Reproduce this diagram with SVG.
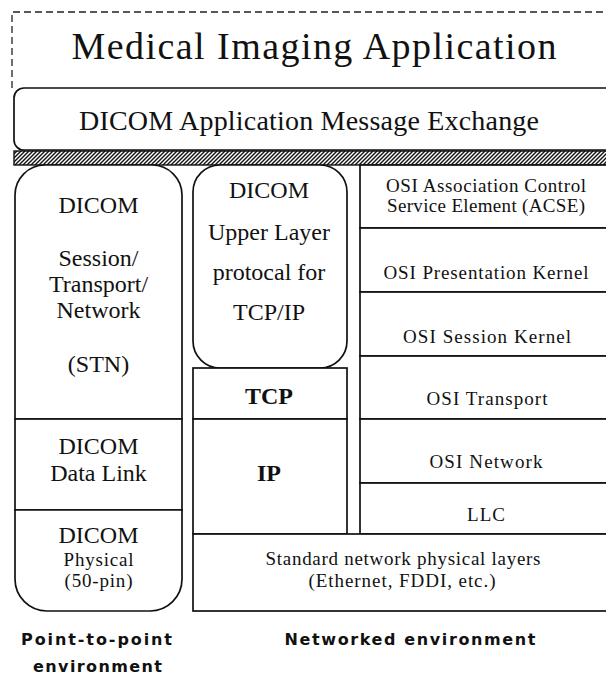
<svg xmlns="http://www.w3.org/2000/svg" width="606" height="677" viewBox="0 0 606 677">
  <defs>
    <pattern id="hatch" patternUnits="userSpaceOnUse" width="4" height="4">
      <rect width="4" height="4" fill="#fff"/>
      <path d="M-1,1 L1,-1 M0,4 L4,0 M3,5 L5,3" stroke="#111" stroke-width="1.4"/>
    </pattern>
    <style>
      .box { fill: #fff; stroke: #111; stroke-width: 1.7; }
      .dash { stroke: #222; stroke-width: 1.3; fill: none; stroke-dasharray: 7 4; }
      .t { font-family: "Liberation Serif", "Times New Roman", serif; fill: #111; text-anchor: middle; }
      .big { font-size: 24px; }
      .mid { font-size: 19px; }
      .osi { font-size: 19px; }
      .b { font-weight: bold; }
      .lbl { font-family: "DejaVu Sans", "Liberation Sans", sans-serif; font-weight: bold; font-size: 16px; fill: #111; text-anchor: middle; }
    </style>
  </defs>

  <rect width="606" height="677" fill="#fff"/>

  <!-- application layer -->
  <g id="app">
    <path class="dash" d="M12,88 V12 H606"/>
    <text class="t" x="314" y="59" font-size="38" textLength="485" lengthAdjust="spacing">Medical Imaging Application</text>
  </g>

  <!-- message exchange -->
  <g id="exchange">
    <rect class="box" x="14" y="88" width="620" height="62" rx="10"/>
    <text class="t" x="309" y="130" font-size="28" textLength="460" lengthAdjust="spacing">DICOM Application Message Exchange</text>
  </g>

  <!-- hatched boundary -->
  <g id="boundary">
    <rect x="14" y="151" width="600" height="14" fill="url(#hatch)" stroke="#111" stroke-width="1.4"/>
  </g>

  <!-- point-to-point stack -->
  <g id="stn">
    <path class="box" d="M15,419 V195 A30,30 0 0 1 45,165 H152 A30,30 0 0 1 182,195 V419 Z"/>
    <text class="t big" x="98.5" y="213">DICOM</text>
    <text class="t big" x="98.5" y="266">Session/</text>
    <text class="t big" x="98.5" y="292">Transport/</text>
    <text class="t big" x="98.5" y="318">Network</text>
    <text class="t big" x="98.5" y="372">(STN)</text>
  </g>
  <g id="datalink">
    <rect class="box" x="15" y="419" width="167" height="91"/>
    <text class="t big" x="98.5" y="454">DICOM</text>
    <text class="t big" x="98.5" y="481">Data Link</text>
  </g>
  <g id="physical">
    <path class="box" d="M15,510 H182 V579 A32,32 0 0 1 150,611 H47 A32,32 0 0 1 15,579 Z"/>
    <text class="t big" x="98.5" y="543">DICOM</text>
    <text class="t mid" x="98.5" y="566" textLength="70" lengthAdjust="spacing">Physical</text>
    <text class="t mid" x="98.5" y="587" textLength="68" lengthAdjust="spacing">(50-pin)</text>
  </g>

  <!-- TCP/IP stack -->
  <g id="upperlayer">
    <rect class="box" x="193" y="165" width="154" height="203" rx="27"/>
    <text class="t big" x="269" y="198">DICOM</text>
    <text class="t big" x="269" y="240">Upper Layer</text>
    <text class="t big" x="269" y="280">protocal for</text>
    <text class="t big" x="269" y="320">TCP/IP</text>
  </g>
  <g id="tcp">
    <rect class="box" x="193" y="368" width="154" height="51"/>
    <text class="t big b" x="269" y="404">TCP</text>
  </g>
  <g id="ip">
    <rect class="box" x="193" y="419" width="154" height="115"/>
    <text class="t big b" x="269" y="481">IP</text>
  </g>

  <!-- OSI stack -->
  <g id="acse">
    <rect class="box" x="360" y="165" width="260" height="63"/>
    <text class="t osi" x="486" y="192" textLength="200" lengthAdjust="spacing">OSI Association Control</text>
    <text class="t osi" x="486" y="212" textLength="198" lengthAdjust="spacing">Service Element (ACSE)</text>
  </g>
  <g id="presentation">
    <rect class="box" x="360" y="228" width="260" height="64"/>
    <text class="t osi" x="486" y="279" textLength="205" lengthAdjust="spacing">OSI Presentation Kernel</text>
  </g>
  <g id="session">
    <rect class="box" x="360" y="292" width="260" height="64"/>
    <text class="t osi" x="487" y="343" textLength="168" lengthAdjust="spacing">OSI Session Kernel</text>
  </g>
  <g id="transport">
    <rect class="box" x="360" y="356" width="260" height="63"/>
    <text class="t osi" x="487" y="405" textLength="121" lengthAdjust="spacing">OSI Transport</text>
  </g>
  <g id="network">
    <rect class="box" x="360" y="419" width="260" height="64"/>
    <text class="t osi" x="486" y="468" textLength="113" lengthAdjust="spacing">OSI Network</text>
  </g>
  <g id="llc">
    <rect class="box" x="360" y="483" width="260" height="51"/>
    <text class="t osi" x="486" y="521" textLength="38" lengthAdjust="spacing">LLC</text>
  </g>

  <!-- shared physical layer -->
  <g id="physical-net">
    <rect class="box" x="193" y="534" width="427" height="77"/>
    <text class="t osi" x="403" y="565" textLength="275" lengthAdjust="spacing">Standard network physical layers</text>
    <text class="t osi" x="402" y="587" textLength="187" lengthAdjust="spacing">(Ethernet, FDDI, etc.)</text>
  </g>

  <!-- environment captions -->
  <g id="captions">
    <text class="lbl" x="96.5" y="645" textLength="151" lengthAdjust="spacing">Point-to-point</text>
    <text class="lbl" x="97.5" y="672" textLength="129" lengthAdjust="spacing">environment</text>
    <text class="lbl" x="410" y="645" textLength="251" lengthAdjust="spacing">Networked environment</text>
  </g>
</svg>
